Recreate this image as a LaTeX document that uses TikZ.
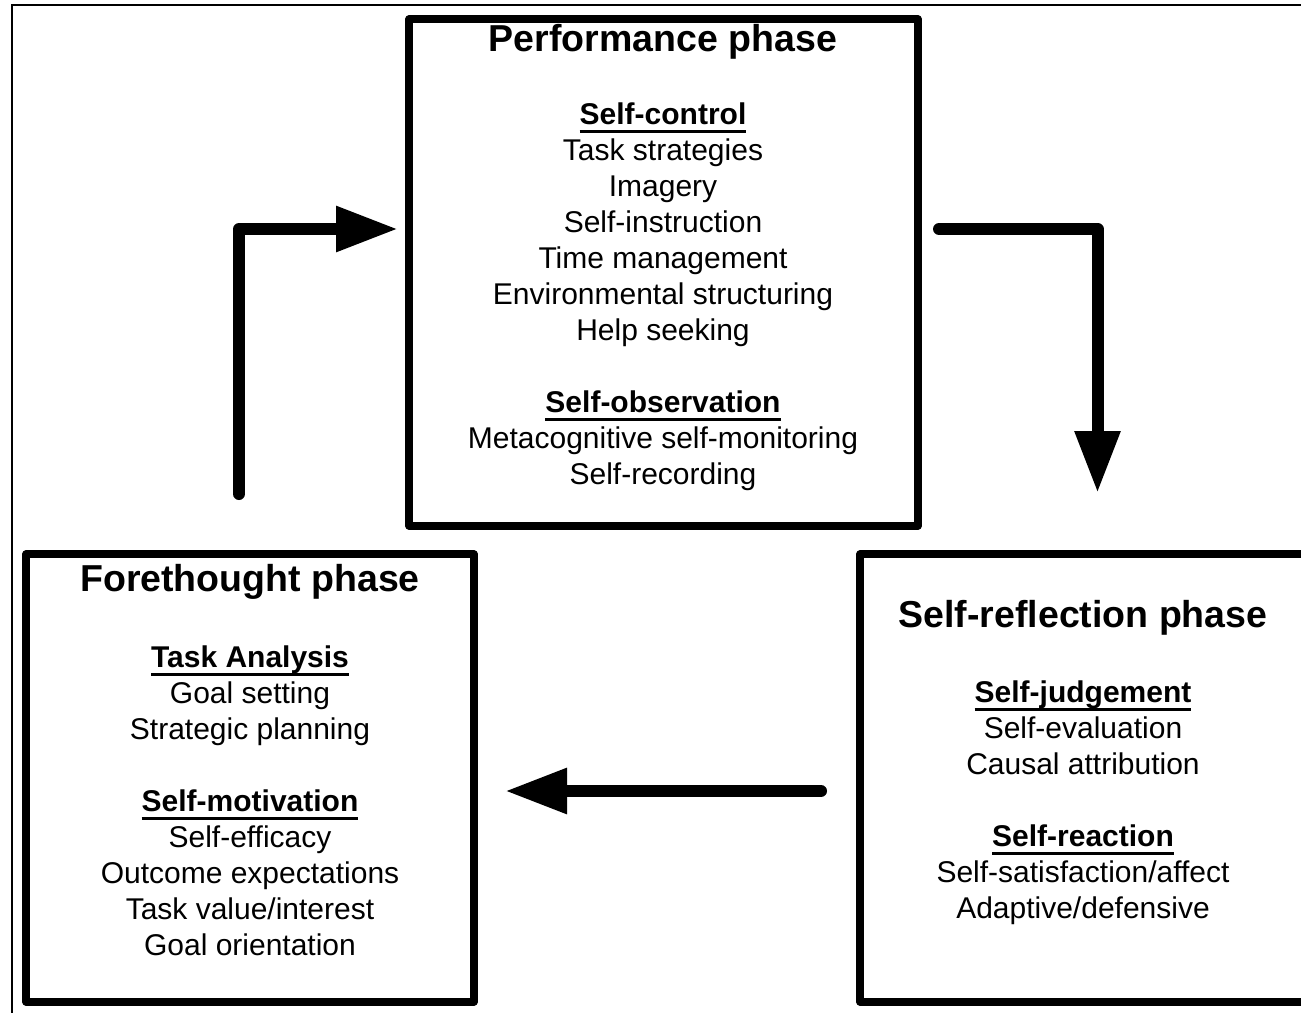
\documentclass[tikz,border=0pt]{standalone}
\usepackage{fontspec}
\setmainfont{Liberation Sans}
\usetikzlibrary{arrows.meta}
\newsavebox{\subheadbox}
\newcommand{\subhead}[1]{\sbox{\subheadbox}{\textbf{#1}}%
    \rlap{\rule[-4.5pt]{\wd\subheadbox}{1.5pt}}\usebox{\subheadbox}}

\begin{document}
\begin{tikzpicture}[x=0.5pt, y=-0.5pt, font=\fontsize{15}{18}\selectfont]
    \tikzstyle{phasebox} = [shape=rectangle, draw=black, line width=3.6pt, line join=round]
    \tikzstyle{phasetitle} = [anchor=base, font=\fontsize{18.75}{22}\selectfont\bfseries]
    \tikzstyle{phasetext} = [anchor=north, align=center, inner sep=0pt]
    \tikzstyle{flow} = [line width=6pt, line cap=round, line join=round, -{Triangle[length=31pt, width=21.5pt]}]
    \useasboundingbox (0,0) rectangle (1301,1012);
    \draw [line width=0.8pt] (1310,5) -| (12,1020);

    \node (perf) [phasebox, minimum width=254.5pt, minimum height=253.5pt] at (663.5,272.5) {};
    \node (fore) [phasebox, minimum width=224pt, minimum height=224pt] at (250,778) {};
    \node (refl) [phasebox, minimum width=223pt, minimum height=224pt] at (1083,778) {};

    \node (perftitle) [phasetitle] at (663,51)  {Performance phase};
    \node (foretitle) [phasetitle] at (250,591) {Forethought phase};
    \node (refltitle) [phasetitle] at (1083,627) {Self-reflection phase};

    \node (perftext) [phasetext] at (663,102) {\subhead{Self-control}\\ Task strategies\\ Imagery\\ Self-instruction\\
        Time management\\ Environmental structuring\\ Help seeking\\[18pt]
        \subhead{Self-observation}\\ Metacognitive self-monitoring\\ Self-recording};
    \node (foretext) [phasetext] at (250,645) {\subhead{Task Analysis}\\ Goal setting\\ Strategic planning\\[18pt]
        \subhead{Self-motivation}\\ Self-efficacy\\ Outcome expectations\\ Task value/interest\\ Goal orientation};
    \node (refltext) [phasetext] at (1083,680) {\subhead{Self-judgement}\\ Self-evaluation\\ Causal attribution\\[18pt]
        \subhead{Self-reaction}\\ Self-satisfaction/affect\\ Adaptive/defensive};

    \coordinate (f1) at (239,494);
    \coordinate (p1) at (398,229);
    \coordinate (p2) at (939,229);
    \coordinate (r1) at (1097.5,493);
    \coordinate (r2) at (821,791);
    \coordinate (f2) at (505,791);

    \draw [flow] (f1) |- (p1);
    \draw [flow] (p2) -| (r1);
    \draw [flow] (r2) -- (f2);
\end{tikzpicture}
\end{document}
